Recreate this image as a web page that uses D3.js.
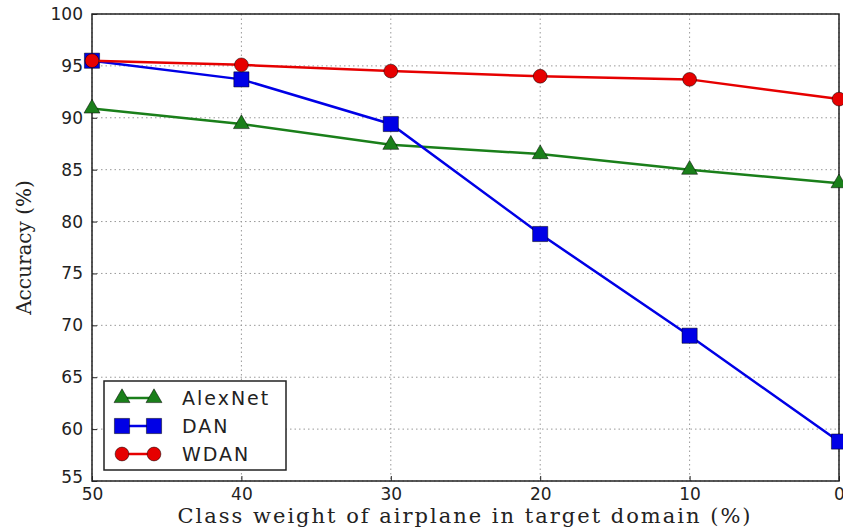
<!DOCTYPE html>
<html lang="en">
<head>
<meta charset="UTF-8">
<title>Accuracy vs class weight</title>
<script src="https://cdn.jsdelivr.net/npm/d3@7"></script>
<style>
  body { margin: 0; background: #fff; }
  .grid line { stroke: #999; stroke-width: 1px; stroke-dasharray: 1.5 3; }
  .tick text { font-family: "DejaVu Sans", sans-serif; font-size: 17px; fill: #222; }
  .axlabel { font-family: "DejaVu Serif", serif; font-size: 20px; fill: #222; }
  .legend text { font-family: "DejaVu Sans", sans-serif; font-size: 19px; letter-spacing: 2px; fill: #222; }
</style>
</head>
<body>
<svg width="843" height="530"></svg>
<script>
// data
const weights = [50, 40, 30, 20, 10, 0];
const alexnet = [90.9, 89.4, 87.4, 86.5, 85.0, 83.7];
const dan     = [95.5, 93.7, 89.4, 78.8, 69.0, 58.8];
const wdan    = [95.5, 95.1, 94.5, 94.0, 93.7, 91.8];
const yTicks = [55, 60, 65, 70, 75, 80, 85, 90, 95, 100];

const series = [
  {name: 'AlexNet', values: alexnet, color: '#1a7f1a', marker: 'triangle'},
  {name: 'DAN', values: dan, color: '#0000e6', marker: 'square'},
  {name: 'WDAN', values: wdan, color: '#e60000', marker: 'circle'}
];

let svg = d3.select('svg');
let m = {left: 92, right: 839, top: 14, bottom: 481};

let x = d3.scaleLinear().domain([50, 0]).range([m.left, m.right]);
let y = d3.scaleLinear().domain([55, 100]).range([m.bottom, m.top]);

// grid
let grid = svg.append('g').attr('class', 'grid');
grid.selectAll('line.h').data(yTicks).join('line')
  .attr('x1', m.left).attr('x2', m.right)
  .attr('y1', d => y(d)).attr('y2', d => y(d));
grid.selectAll('line.v').data(weights).join('line')
  .attr('y1', m.top).attr('y2', m.bottom)
  .attr('x1', d => x(d)).attr('x2', d => x(d));

// frame
svg.append('rect')
  .attr('x', m.left).attr('y', m.top)
  .attr('width', m.right - m.left).attr('height', m.bottom - m.top)
  .attr('fill', 'none').attr('stroke', '#222').attr('stroke-width', 1.5);

// axes
let xAxis = svg.append('g')
  .attr('transform', `translate(0,${m.bottom})`)
  .call(d3.axisBottom(x).tickValues(weights).tickSize(-5).tickPadding(7).tickFormat(d3.format('d')));
let yAxis = svg.append('g')
  .attr('transform', `translate(${m.left},0)`)
  .call(d3.axisLeft(y).tickValues(yTicks).tickSize(-5).tickPadding(9));
[xAxis, yAxis].forEach(a => {
  a.select('.domain').remove();
  a.selectAll('.tick line').attr('stroke', '#222');
});
// the 55 / 50 labels crowd the corner as in the original
yAxis.selectAll('.tick text').filter(d => d === 55).attr('dy', '0.1em');

// lines and markers
let line = d3.line()
  .x((d, i) => x(weights[i]))
  .y(d => y(d));

let sym = {
  triangle: d3.symbol().type(d3.symbolTriangle).size(110),
  square: d3.symbol().type(d3.symbolSquare).size(230),
  circle: d3.symbol().type(d3.symbolCircle).size(150)
};

series.forEach(s => {
  let g = svg.append('g');
  g.append('path').datum(s.values)
    .attr('d', line)
    .attr('fill', 'none')
    .attr('stroke', s.color)
    .attr('stroke-width', 2.5);
  g.selectAll('path.mk').data(s.values).join('path')
    .attr('class', 'mk')
    .attr('transform', (d, i) => `translate(${x(weights[i])},${y(d)})`)
    .attr('d', sym[s.marker])
    .attr('fill', s.color)
    .attr('stroke', '#000')
    .attr('stroke-width', 0.5);
});

// axis labels
svg.append('text').attr('class', 'axlabel')
  .attr('x', 465).attr('y', 523)
  .attr('text-anchor', 'middle')
  .style('font-size', '21px').style('letter-spacing', '2px')
  .text('Class weight of airplane in target domain (%)');
svg.append('text').attr('class', 'axlabel')
  .attr('transform', `translate(31,${(m.top + m.bottom) / 2}) rotate(-90)`)
  .attr('text-anchor', 'middle')
  .text('Accuracy (%)');

// legend
let lg = svg.append('g').attr('class', 'legend').attr('transform', 'translate(104,381)');
lg.append('rect').attr('width', 182).attr('height', 89)
  .attr('fill', '#fff').attr('stroke', '#222').attr('stroke-width', 1.5);
series.forEach((s, i) => {
  let yy = 17 + i * 28;
  lg.append('line').attr('x1', 18).attr('x2', 50).attr('y1', yy).attr('y2', yy)
    .attr('stroke', s.color).attr('stroke-width', 2.5);
  [18, 50].forEach(xx => {
    lg.append('path').attr('transform', `translate(${xx},${yy})`)
      .attr('d', sym[s.marker]).attr('fill', s.color)
      .attr('stroke', '#000').attr('stroke-width', 0.5);
  });
  lg.append('text').attr('x', 78).attr('y', yy).attr('dy', '0.35em').text(s.name);
});
</script>
</body>
</html>
